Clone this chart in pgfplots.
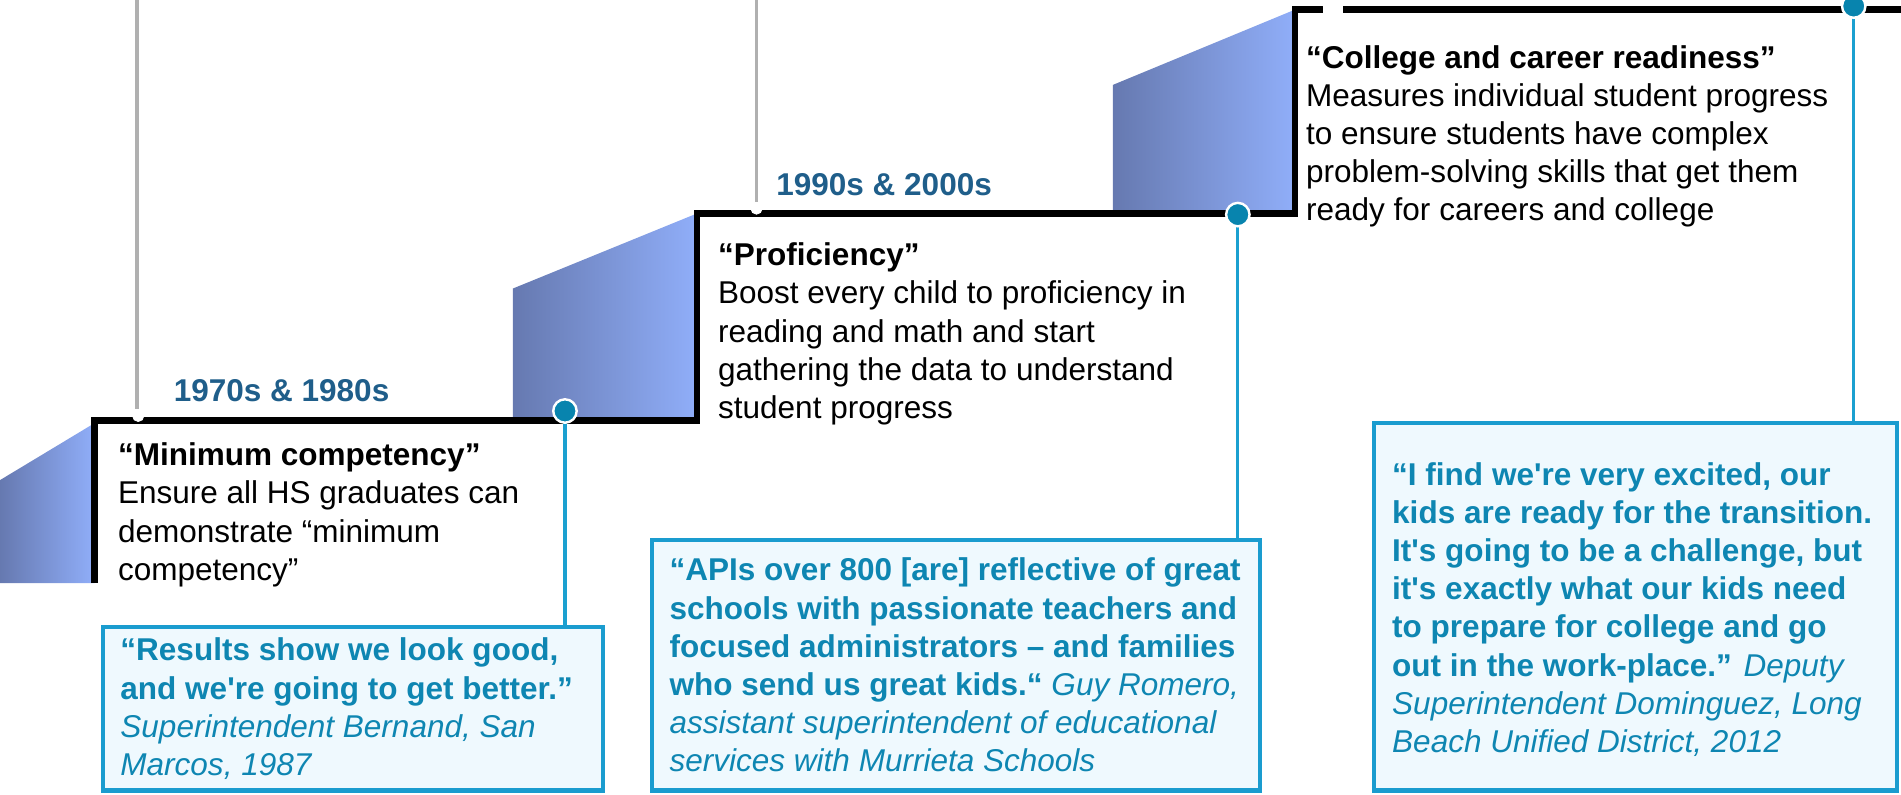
\documentclass[border=0pt]{standalone}
\usepackage{pgfplots}
\pgfplotsset{compat=1.18}
\usepackage{fontspec}
\setmainfont{Liberation Sans}
\definecolor{rampL}{HTML}{6679B0}
\definecolor{rampR}{HTML}{90AEF9}
\definecolor{yearc}{HTML}{1F5E8A}
\definecolor{quotec}{HTML}{0E86B2}
\definecolor{boxc}{HTML}{1A9CCF}
\definecolor{boxfill}{HTML}{EFF9FE}
\definecolor{dotc}{HTML}{0884AE}
\definecolor{linec}{HTML}{1BA0D0}
\definecolor{grayc}{HTML}{B0B0B0}
\newcommand{\tf}{\fontsize{15.6pt}{18.9pt}\selectfont}
\begin{document}
\begin{tikzpicture}
\begin{axis}[
  hide axis, scale only axis,
  width=940.8pt, height=393pt,
  xmin=0, xmax=1568, ymin=0, ymax=655,
  y dir=reverse, clip=true,
]
% ramps
\addplot[draw=none, left color=rampL, right color=rampR] coordinates {(0,396) (78,349) (78,481) (0,481)} -- cycle;
\addplot[draw=none, left color=rampL, right color=rampR] coordinates {(423,347) (423,238) (575,176) (575,347)} -- cycle;
\addplot[draw=none, left color=rampL, right color=rampR] coordinates {(918,176) (918,70) (1068,8) (1068,176)} -- cycle;
% gray timeline lines
\addplot[grayc, line width=1.6pt] coordinates {(113,-5) (113,337)};
\addplot[grayc, line width=1.6pt] coordinates {(624,-5) (624,167)};
% step line
\addplot[black, line width=3.2pt, line join=miter] coordinates {(78,481) (78,347) (575,347) (575,176) (1068,176) (1068,8) (1580,8)};
% notches
\addplot[only marks, mark=*, mark size=2.8pt, mark options={fill=white, draw=white}] coordinates {(114,343) (624,172)};
\addplot[white, line width=3.4pt] coordinates {(1091,8) (1108,8)};
% connectors
\addplot[linec, line width=1.6pt] coordinates {(466,339) (466,517)};
\addplot[linec, line width=1.6pt] coordinates {(1021,177) (1021,445)};
\addplot[linec, line width=1.6pt] coordinates {(1529,5) (1529,349)};
% quote boxes
\addplot[draw=boxc, line width=2pt, fill=boxfill] coordinates {(85,517) (497,517) (497,652) (85,652)} -- cycle;
\addplot[draw=boxc, line width=2pt, fill=boxfill] coordinates {(538,445) (1039,445) (1039,652) (538,652)} -- cycle;
\addplot[draw=boxc, line width=2pt, fill=boxfill] coordinates {(1133,349) (1565,349) (1565,652) (1133,652)} -- cycle;
% dots
\addplot[only marks, mark=*, mark size=5.8pt, mark options={fill=dotc, draw=white, line width=1.2pt}] coordinates {(466,339) (1021,177) (1529,5)};

% year labels
\node[anchor=west, inner sep=0pt, font=\tf\bfseries, text=yearc] at (axis cs:143,322) {1970s \& 1980s};
\node[anchor=west, inner sep=0pt, font=\tf\bfseries, text=yearc] at (axis cs:640,152) {1990s \& 2000s};
% stage texts
\node[anchor=north west, inner sep=0pt, align=left, font=\tf] at (axis cs:97,365) {\textbf{“Minimum competency”}\\Ensure all HS graduates can\\demonstrate “minimum\\competency”};
\node[anchor=north west, inner sep=0pt, align=left, font=\tf] at (axis cs:592,200) {\textbf{“Proficiency”}\\Boost every child to proficiency in\\reading and math and start\\gathering the data to understand\\student progress};
\node[anchor=north west, inner sep=0pt, align=left, font=\tf] at (axis cs:1077,37) {\textbf{“College and career readiness”}\\Measures individual student progress\\to ensure students have complex\\problem-solving skills that get them\\ready for careers and college};
% quotes
\node[anchor=north west, inner sep=0pt, align=left, font=\tf, text=quotec] at (axis cs:99,526) {\textbf{“Results show we look good,}\\\textbf{and we\textquotesingle re going to get better.”}\\\textit{Superintendent Bernand, San}\\\textit{Marcos, 1987}};
\node[anchor=north west, inner sep=0pt, align=left, font=\tf, text=quotec] at (axis cs:552,460) {\textbf{“APIs over 800 [are] reflective of great}\\\textbf{schools with passionate teachers and}\\\textbf{focused administrators – and families}\\\textbf{who send us great kids.“} \textit{Guy Romero,}\\\textit{assistant superintendent of educational}\\\textit{services with Murrieta Schools}};
\node[anchor=north west, inner sep=0pt, align=left, font=\tf, text=quotec] at (axis cs:1148,381) {\textbf{“I find we\textquotesingle re very excited, our}\\\textbf{kids are ready for the transition.}\\\textbf{It\textquotesingle s going to be a challenge, but}\\\textbf{it\textquotesingle s exactly what our kids need}\\\textbf{to prepare for college and go}\\\textbf{out in the work-place.”} \textit{Deputy}\\\textit{Superintendent Dominguez, Long}\\\textit{Beach Unified District, 2012}};
\end{axis}
\pgfresetboundingbox
\useasboundingbox (current axis.south west) rectangle (current axis.north east);
\end{tikzpicture}
\end{document}
